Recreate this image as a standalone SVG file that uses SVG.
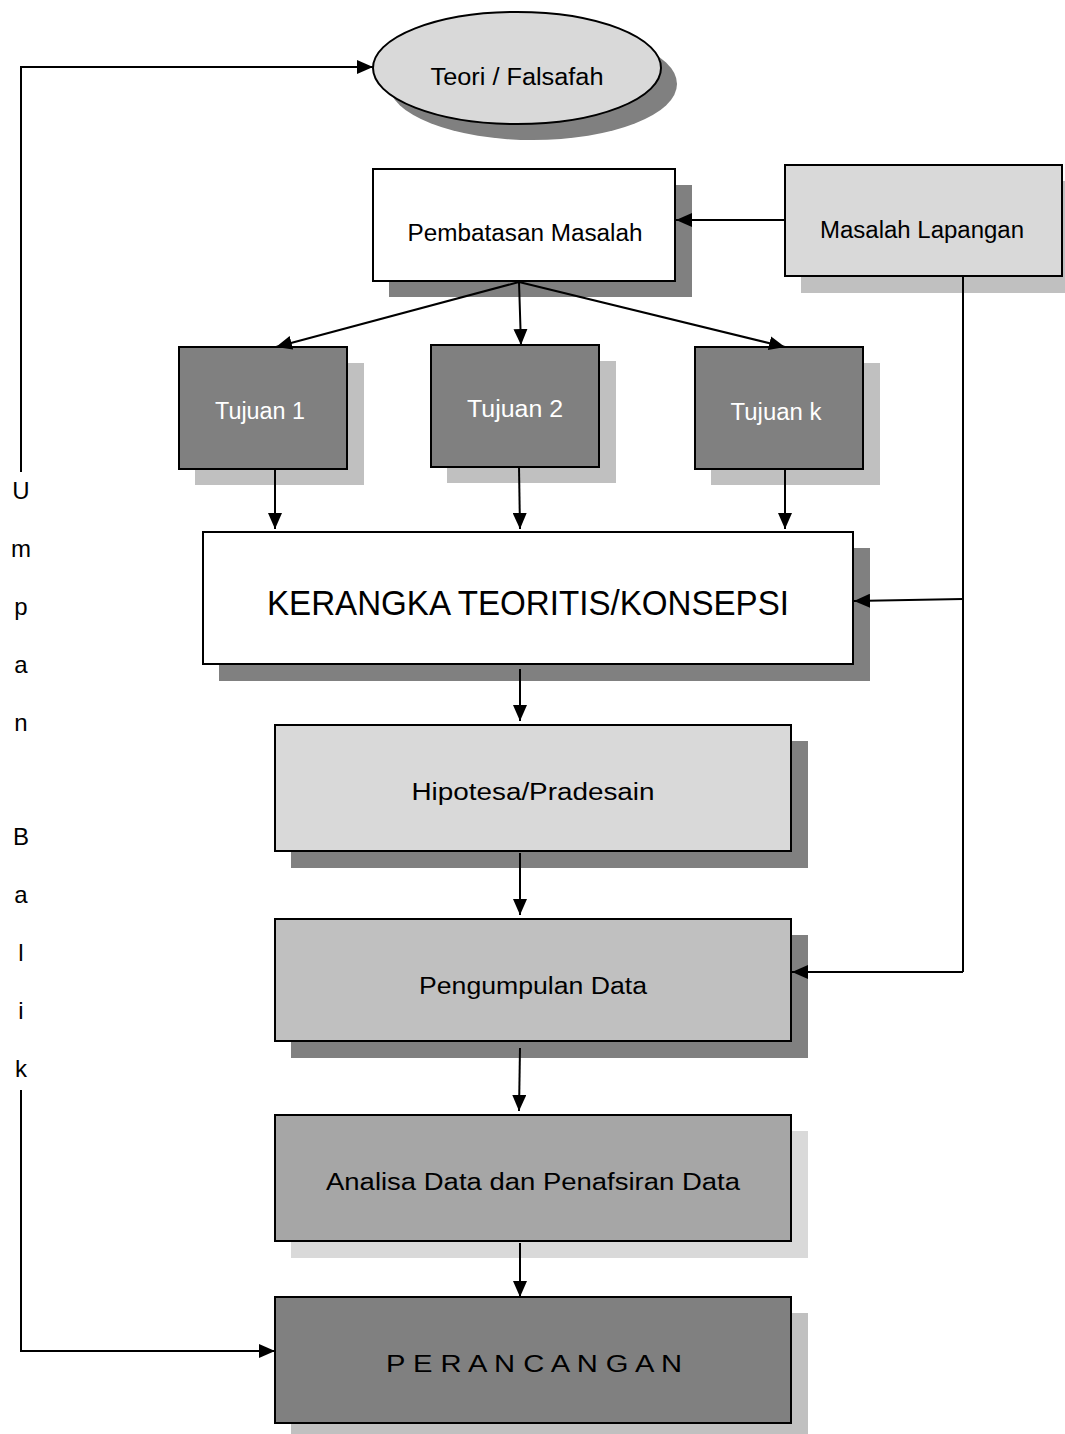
<svg xmlns="http://www.w3.org/2000/svg" width="1065" height="1434" viewBox="0 0 1065 1434">
<defs>
<marker id="ah" viewBox="0 0 10 10" refX="10" refY="5" markerWidth="10" markerHeight="10" markerUnits="userSpaceOnUse" orient="auto">
<path d="M0,0 L10,5 L0,10 z" fill="#000"/>
</marker>
<marker id="ah2" viewBox="0 0 16 14" refX="16" refY="7" markerWidth="16" markerHeight="14" markerUnits="userSpaceOnUse" orient="auto">
<path d="M0,0 L16,7 L0,14 z" fill="#000"/>
</marker>
</defs>
<style>
.b{stroke:#000;stroke-width:2}
.t{font-family:"Liberation Sans",Arial,sans-serif;font-size:23px;fill:#000;text-anchor:middle}
.w{fill:#fff}
.c{fill:none;stroke:#000;stroke-width:2;marker-end:url(#ah2)}
.l{fill:none;stroke:#000;stroke-width:2}
.v{font-family:"Liberation Sans",Arial,sans-serif;font-size:24px;fill:#000;text-anchor:middle}
</style>
<rect width="1065" height="1434" fill="#fff"/>

<g id="teori">
<ellipse cx="533" cy="84" rx="144" ry="56" fill="#808080"/>
<ellipse cx="517" cy="68" rx="144" ry="56" fill="#d9d9d9" class="b"/>
<text class="t" x="517" y="85" textLength="173" lengthAdjust="spacingAndGlyphs">Teori / Falsafah</text>
</g>

<g id="pembatasan">
<rect x="389" y="185" width="303" height="112" fill="#808080"/>
<rect x="373" y="169" width="302" height="112" fill="#fff" class="b"/>
<text class="t" x="525" y="241" textLength="235" lengthAdjust="spacingAndGlyphs">Pembatasan Masalah</text>
</g>

<g id="masalah">
<rect x="801" y="181" width="264" height="112" fill="#c0c0c0"/>
<rect x="785" y="165" width="277" height="111" fill="#d9d9d9" class="b"/>
<text class="t" x="922" y="238" textLength="204" lengthAdjust="spacingAndGlyphs">Masalah Lapangan</text>
</g>

<g id="tujuan1">
<rect x="195" y="363" width="169" height="122" fill="#c0c0c0"/>
<rect x="179" y="347" width="168" height="122" fill="#808080" class="b"/>
<text class="t w" x="260" y="419" textLength="90" lengthAdjust="spacingAndGlyphs">Tujuan  1</text>
</g>

<g id="tujuan2">
<rect x="447" y="361" width="169" height="122" fill="#c0c0c0"/>
<rect x="431" y="345" width="168" height="122" fill="#808080" class="b"/>
<text class="t w" x="515" y="417" textLength="96" lengthAdjust="spacingAndGlyphs">Tujuan  2</text>
</g>

<g id="tujuank">
<rect x="711" y="363" width="169" height="122" fill="#c0c0c0"/>
<rect x="695" y="347" width="168" height="122" fill="#808080" class="b"/>
<text class="t w" x="776" y="420" textLength="91" lengthAdjust="spacingAndGlyphs">Tujuan  k</text>
</g>

<g id="kerangka">
<rect x="219" y="548" width="651" height="133" fill="#808080"/>
<rect x="203" y="532" width="650" height="132" fill="#fff" class="b"/>
<text class="t" x="528" y="615" style="font-size:35px" textLength="522" lengthAdjust="spacingAndGlyphs">KERANGKA TEORITIS/KONSEPSI</text>
</g>

<g id="hipotesa">
<rect x="291" y="741" width="517" height="127" fill="#808080"/>
<rect x="275" y="725" width="516" height="126" fill="#d9d9d9" class="b"/>
<text class="t" x="533" y="800" textLength="243" lengthAdjust="spacingAndGlyphs">Hipotesa/Pradesain</text>
</g>

<g id="pengumpulan">
<rect x="291" y="935" width="517" height="123" fill="#808080"/>
<rect x="275" y="919" width="516" height="122" fill="#c0c0c0" class="b"/>
<text class="t" x="533" y="994" textLength="228" lengthAdjust="spacingAndGlyphs">Pengumpulan Data</text>
</g>

<g id="analisa">
<rect x="291" y="1131" width="517" height="127" fill="#d9d9d9"/>
<rect x="275" y="1115" width="516" height="126" fill="#a6a6a6" class="b"/>
<text class="t" x="533" y="1190" textLength="414" lengthAdjust="spacingAndGlyphs">Analisa Data dan Penafsiran Data</text>
</g>

<g id="perancangan">
<rect x="291" y="1313" width="517" height="121" fill="#c0c0c0"/>
<rect x="275" y="1297" width="516" height="126" fill="#808080" class="b"/>
<text class="t" x="534" y="1372" textLength="296" lengthAdjust="spacingAndGlyphs">P E R A N C A N G A N</text>
</g>

<g id="umpanbalik">
<text class="v" x="21" y="499">U</text>
<text class="v" x="21" y="557">m</text>
<text class="v" x="21" y="615">p</text>
<text class="v" x="21" y="673">a</text>
<text class="v" x="21" y="731">n</text>
<text class="v" x="21" y="845">B</text>
<text class="v" x="21" y="903">a</text>
<text class="v" x="21" y="961">l</text>
<text class="v" x="21" y="1019">i</text>
<text class="v" x="21" y="1077">k</text>
</g>

<g id="connectors">
<path class="c" d="M21,472 L21,67 L373,67"/>
<path class="c" d="M21,1090 L21,1351 L275,1351"/>
<path class="c" d="M785,220 L676,220"/>
<path class="c" d="M519,282 L276,347"/>
<path class="c" d="M519,282 L521,345"/>
<path class="c" d="M519,282 L785,347"/>
<path class="c" d="M275,469 L275,529"/>
<path class="c" d="M519,467 L520,529"/>
<path class="c" d="M785,469 L785,529"/>
<path class="l" d="M963,277 L963,972"/>
<path class="c" d="M963,599 L854,601"/>
<path class="c" d="M963,972 L792,972"/>
<path class="c" d="M520,669 L520,721"/>
<path class="c" d="M520,853 L520,915"/>
<path class="c" d="M520,1048 L519,1111"/>
<path class="c" d="M520,1243 L520,1297"/>
</g>
</svg>
